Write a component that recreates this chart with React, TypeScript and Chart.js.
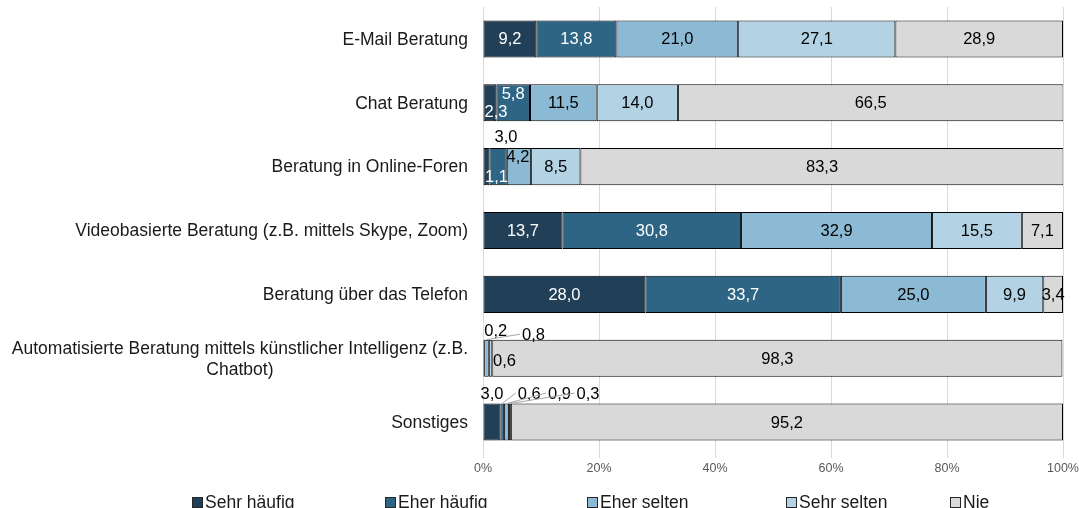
import React, { useEffect, useRef } from 'react';
import { Chart, registerables } from 'chart.js';

Chart.register(...registerables);

const categories: (string | string[])[] = [
  'E-Mail Beratung',
  'Chat Beratung',
  'Beratung in Online-Foren',
  'Videobasierte Beratung (z.B. mittels Skype, Zoom)',
  'Beratung über das Telefon',
  ['Automatisierte Beratung mittels künstlicher Intelligenz (z.B.', 'Chatbot)'],
  'Sonstiges',
];

const seriesNames = ['Sehr häufig', 'Eher häufig', 'Eher selten', 'Sehr selten', 'Nie'];

const sehrHaeufig = [9.2, 2.3, 1.1, 13.7, 28.0, 0.2, 3.0];
const eherHaeufig = [13.8, 5.8, 3.0, 30.8, 33.7, 0, 0.6];
const eherSelten = [21.0, 11.5, 4.2, 32.9, 25.0, 0.8, 0.9];
const sehrSelten = [27.1, 14.0, 8.5, 15.5, 9.9, 0.6, 0.3];
const nie = [28.9, 66.5, 83.3, 7.1, 3.4, 98.3, 95.2];

const xTickValues = [0, 20, 40, 60, 80, 100];

const seriesValues = [sehrHaeufig, eherHaeufig, eherSelten, sehrSelten, nie];
const colors = ['#213f56', '#2e6584', '#8cbad5', '#b3d3e4', '#d9d9d9'];
const labelColors = ['#ffffff', '#ffffff', '#000000', '#000000', '#000000'];

const FONT = '"Liberation Sans", Arial, sans-serif';

type Adj = { dx: number; dy: number; color?: string; leader?: boolean };
const labelAdjust: Record<string, Adj> = {
  '0-1': { dx: 6, dy: 9 },
  '1-1': { dx: 0, dy: -9 },
  '0-2': { dx: 10, dy: 10 },
  '1-2': { dx: 8, dy: -30, color: '#000000' },
  '2-2': { dx: -1, dy: -10 },
  '0-5': { dx: 12, dy: -28, color: '#000000' },
  '2-5': { dx: 47, dy: -24, leader: true },
  '3-5': { dx: 14, dy: 2 },
  '0-6': { dx: 0, dy: -29, color: '#000000' },
  '1-6': { dx: 27, dy: -29, color: '#000000', leader: true },
  '2-6': { dx: 53, dy: -29, leader: true },
  '3-6': { dx: 78, dy: -29, leader: true },
};

const legendX = [192, 385, 587, 786, 950];

const fmt = (v: number) => v.toFixed(1).replace('.', ',');

const labelsPlugin = {
  id: 'customLabels',
  afterDatasetsDraw(chart: any) {
    const ctx = chart.ctx;
    ctx.save();
    ctx.font = `16.5px ${FONT}`;
    ctx.textAlign = 'center';
    ctx.textBaseline = 'middle';
    chart.data.datasets.forEach((ds: any, di: number) => {
      const meta = chart.getDatasetMeta(di);
      meta.data.forEach((el: any, i: number) => {
        const v = ds.data[i];
        if (!v) return;
        const cx = (el.x + el.base) / 2;
        const cy = el.y;
        const adj = labelAdjust[`${di}-${i}`];
        const lx = cx + (adj ? adj.dx : 0);
        const ly = cy + (adj ? adj.dy : 0);
        const text = fmt(v);
        if (adj && adj.leader) {
          const w = ctx.measureText(text).width;
          ctx.strokeStyle = '#a6a6a6';
          ctx.lineWidth = 1;
          ctx.beginPath();
          ctx.moveTo(cx, el.y - el.height / 2);
          ctx.lineTo(lx - w / 2 - 2, ly);
          ctx.stroke();
        }
        ctx.fillStyle = adj && adj.color ? adj.color : labelColors[di];
        ctx.fillText(text, lx, ly + 1);
      });
    });
    ctx.restore();
  },
  afterDraw(chart: any) {
    const ctx = chart.ctx;
    const yScale = chart.scales.y;
    const right = chart.chartArea.left - 15;
    ctx.save();
    ctx.font = `17.5px ${FONT}`;
    ctx.fillStyle = '#1a1a1a';
    ctx.textBaseline = 'middle';
    (chart.data.labels as any[]).forEach((lab: any, i: number) => {
      const y = yScale.getPixelForValue(i);
      if (Array.isArray(lab)) {
        const w = Math.max(...lab.map((l: string) => ctx.measureText(l).width));
        const lh = 21;
        const startY = y - ((lab.length - 1) * lh) / 2;
        ctx.textAlign = 'center';
        lab.forEach((l: string, k: number) => {
          ctx.fillText(l, right - w / 2, startY + k * lh + 1);
        });
      } else {
        ctx.textAlign = 'right';
        ctx.fillText(lab, right, y + 1);
      }
    });
    // legend
    ctx.font = `17.5px ${FONT}`;
    ctx.textAlign = 'left';
    ctx.textBaseline = 'alphabetic';
    chart.data.datasets.forEach((ds: any, di: number) => {
      const x = legendX[di];
      ctx.fillStyle = ds.backgroundColor;
      ctx.fillRect(x + 0.5, 497.5, 10, 10);
      ctx.strokeStyle = '#262626';
      ctx.lineWidth = 1;
      ctx.strokeRect(x + 0.5, 497.5, 10, 10);
      ctx.fillStyle = '#1a1a1a';
      ctx.fillText(ds.label, x + 13, 508);
    });
    ctx.restore();
  },
};

export default function App() {
  const ref = useRef<HTMLCanvasElement | null>(null);
  useEffect(() => {
    if (!ref.current) return;
    const chart = new Chart(ref.current, {
      type: 'bar',
      data: {
        labels: categories as any,
        datasets: seriesValues.map((vals, i) => ({
          label: seriesNames[i],
          data: vals,
          backgroundColor: colors[i],
          borderColor: '#000000',
          borderWidth: 1,
          borderSkipped: false,
          barPercentage: 0.58,
          categoryPercentage: 1,
        })),
      },
      options: {
        indexAxis: 'y',
        responsive: false,
        devicePixelRatio: 1,
        animation: false,
        layout: { padding: { top: 7, right: 16, bottom: 30, left: 0 } },
        scales: {
          x: {
            stacked: true,
            min: 0,
            max: 100,
            afterBuildTicks: (s: any) => {
              s.ticks = xTickValues.map((v) => ({ value: v }));
            },
            afterFit: (s: any) => {
              s.height = 24;
              s.paddingRight = 0;
              s.paddingLeft = 0;
            },
            ticks: {
              callback: (v: any) => `${v}%`,
              color: '#595959',
              font: { size: 12.5, family: FONT },
              padding: 3,
              maxRotation: 0,
            },
            grid: { color: '#d9d9d9', tickLength: 4 },
            border: { display: false },
          },
          y: {
            stacked: true,
            ticks: { display: false },
            grid: { display: false },
            border: { display: false },
            afterFit: (s: any) => {
              s.width = 483;
            },
          },
        },
        plugins: {
          legend: { display: false },
          tooltip: { enabled: false },
        },
      } as any,
      plugins: [labelsPlugin],
    });
    return () => chart.destroy();
  }, []);
  return (
    <div style={{ position: 'fixed', left: 0, top: 0, width: 1079, height: 508, background: '#fff' }}>
      <canvas ref={ref} width={1079} height={508} style={{ display: 'block' }} />
    </div>
  );
}
